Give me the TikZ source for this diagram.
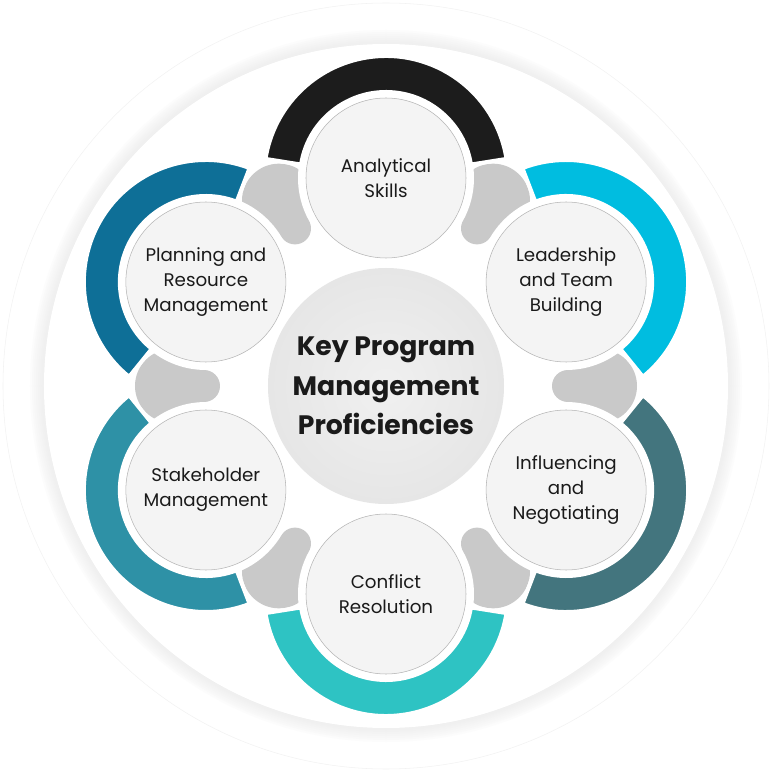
\documentclass[tikz,border=0pt]{standalone}
\usepackage{fontspec}
\setmainfont{Poppins}
\usepackage{tikz}
\usetikzlibrary{positioning}
\definecolor{ringblack}{HTML}{1C1C1C}
\definecolor{ringcyan}{HTML}{00BDE0}
\definecolor{ringslate}{HTML}{43757E}
\definecolor{ringaqua}{HTML}{2EC3C3}
\definecolor{ringteal}{HTML}{2E91A6}
\definecolor{ringblue}{HTML}{0E6F97}
\definecolor{blobgray}{HTML}{C9C9C9}
\definecolor{skillfill}{HTML}{F4F4F4}
\definecolor{skillborder}{HTML}{B5B5B5}
\definecolor{hubin}{HTML}{F0F0F0}
\definecolor{hubout}{HTML}{E6E6E6}
\definecolor{inktext}{HTML}{1A1A1A}
\tikzset{
  skill/.style={
    shape = circle,
    draw = skillborder,
    line width = 0.4pt,
    fill = skillfill,
    minimum size = 120pt,
    inner sep = 0pt,
    align = center,
    text = inktext,
    font = \fontsize{13.7}{19}\selectfont
  },
  hub/.style={
    shape = circle,
    inner color = hubin,
    outer color = hubout,
    minimum size = 177pt,
    inner sep = 0pt,
    align = center,
    text = inktext,
    font = \fontsize{20}{29.6}\selectfont\bfseries
  },
  ring/.style={
    draw = white,
    line width = 3pt
  },
}

\begin{document}
\begin{tikzpicture}[x=0.75pt,y=0.75pt]
  \useasboundingbox (-386,-385) rectangle (385,386);
  % outer plate with soft shadow
  \draw[black!5, fill=white] (0,0) circle[radius=383];
  \foreach \i in {14,12,...,0}
    \fill[black!8, opacity=0.14] (0,0) circle[radius=342+\i];
  \fill[white] (0,0) circle[radius=342];
  % gray links between rings
  \foreach \a in {0,60,...,300} {
    \fill[blobgray] (\a:182) circle[radius=16];
    \fill[blobgray] (\a:214) circle[radius=37];
  }
  \foreach \a in {90,30,-30,-90,-150,150}
    \fill[white] (\a:208) circle[radius=88];
  % coloured rings
  \foreach \a/\col in {90/ringblack, 30/ringcyan, -30/ringslate, -90/ringaqua, -150/ringteal, 150/ringblue}
    \filldraw[ring, fill=\col, shift={(\a:208)}]
      ({\a-81}:122) arc[start angle={\a-81}, end angle={\a+81}, radius=122]
      -- ({\a+81}:86) arc[start angle={\a+81}, end angle={\a-81}, radius=86] -- cycle;
  % hub and skills
  \node[hub] (hub) at (0,0) {Key Program\\Management\\Proficiencies};
  \node[skill] (analytical) at (90:208) {Analytical\\Skills};
  \node[skill] (leadership) at (30:208) {Leadership\\and Team\\Building};
  \node[skill] (influencing) at (-30:208) {Influencing\\and\\Negotiating};
  \node[skill] (conflict) at (-90:208) {Conflict\\Resolution};
  \node[skill] (stakeholder) at (-150:208) {Stakeholder\\Management};
  \node[skill] (planning) at (150:208) {Planning and\\Resource\\Management};
\end{tikzpicture}
\end{document}
